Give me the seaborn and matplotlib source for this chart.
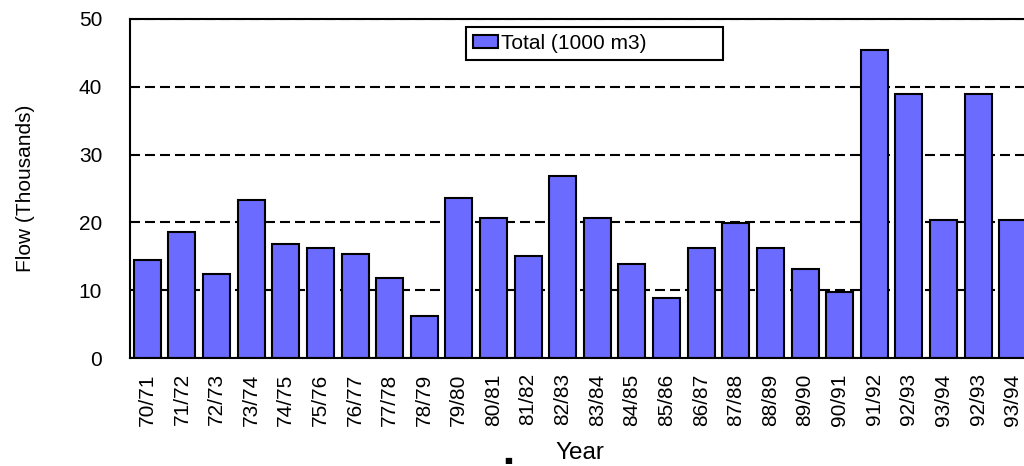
import matplotlib
matplotlib.use("Agg")
import matplotlib.pyplot as plt
import seaborn as sns
import pandas as pd

# Seasonal totals, thousands of m3
years = ['70/71', '71/72', '72/73', '73/74', '74/75', '75/76', '76/77', '77/78',
         '78/79', '79/80', '80/81', '81/82', '82/83', '83/84', '84/85', '85/86',
         '86/87', '87/88', '88/89', '89/90', '90/91', '91/92', '92/93', '93/94',
         '92/93', '93/94']
totals = [14.4, 18.6, 12.4, 23.3, 16.8, 16.2, 15.3, 11.8,
          6.2, 23.6, 20.7, 15.1, 26.9, 20.6, 13.9, 8.8,
          16.2, 19.9, 16.2, 13.2, 9.7, 45.5, 39.0, 20.3,
          39.0, 20.3]
y_ticks = [0, 10, 20, 30, 40, 50]
series_name = 'Total (1000 m3)'

sns.set_style('white')
plt.rcParams['font.family'] = ['Liberation Sans', 'DejaVu Sans']
plt.rcParams['text.color'] = 'black'
plt.rcParams['axes.labelcolor'] = 'black'
plt.rcParams['xtick.color'] = 'black'
plt.rcParams['ytick.color'] = 'black'

df = pd.DataFrame({'pos': list(range(len(years))), 'flow': totals})

fig = plt.figure(figsize=(10.24, 4.66), dpi=100)
ax = fig.add_axes([130 / 1024, 1 - 358 / 466, 900 / 1024, 339 / 466])

sns.barplot(data=df, x='pos', y='flow', ax=ax, color='#6b6bff', saturation=1,
            width=0.78, edgecolor='black', linewidth=1.5, errorbar=None)

ax.set_ylim(0, 50)
ax.set_xlim(-0.5, len(years) - 0.5)
ax.set_yticks(y_ticks)
ax.set_yticklabels([str(v) for v in y_ticks], fontsize=15)
ax.set_xticks(range(len(years)))
ax.set_xticklabels(years, rotation=90, fontsize=15)
ax.tick_params(axis='y', length=0, pad=20)
ax.tick_params(axis='x', length=0, pad=11)

ax.set_axisbelow(True)
ax.yaxis.grid(True, color='black', linewidth=1.5, linestyle=(0, (4.8, 2.4)))
ax.xaxis.grid(False)

for side in ['left', 'bottom', 'top', 'right']:
    ax.spines[side].set_visible(True)
    ax.spines[side].set_color('black')
    ax.spines[side].set_linewidth(1.5)

ax.set_ylabel('Flow (Thousands)', fontsize=15)
ax.yaxis.set_label_coords(-0.106, 0.5)
ax.set_xlabel('Year', fontsize=17.5)
ax.xaxis.set_label_coords(0.5, -0.247)

leg = ax.legend([ax.containers[0]], [series_name], loc='upper left',
                bbox_to_anchor=(0.373, 0.976, 0.286, 0.0), mode='expand',
                borderaxespad=0, fontsize=15, fancybox=False, framealpha=1,
                edgecolor='black', borderpad=0.33, handlelength=1.2,
                handleheight=0.6, handletextpad=0.15)
leg.get_frame().set_linewidth(1.5)

fig.text(508 / 1024, 1 - 460 / 466, '\u25a0', fontsize=6, ha='center', va='center',
         family=['DejaVu Sans'])

fig.savefig('out.png', dpi=100)
